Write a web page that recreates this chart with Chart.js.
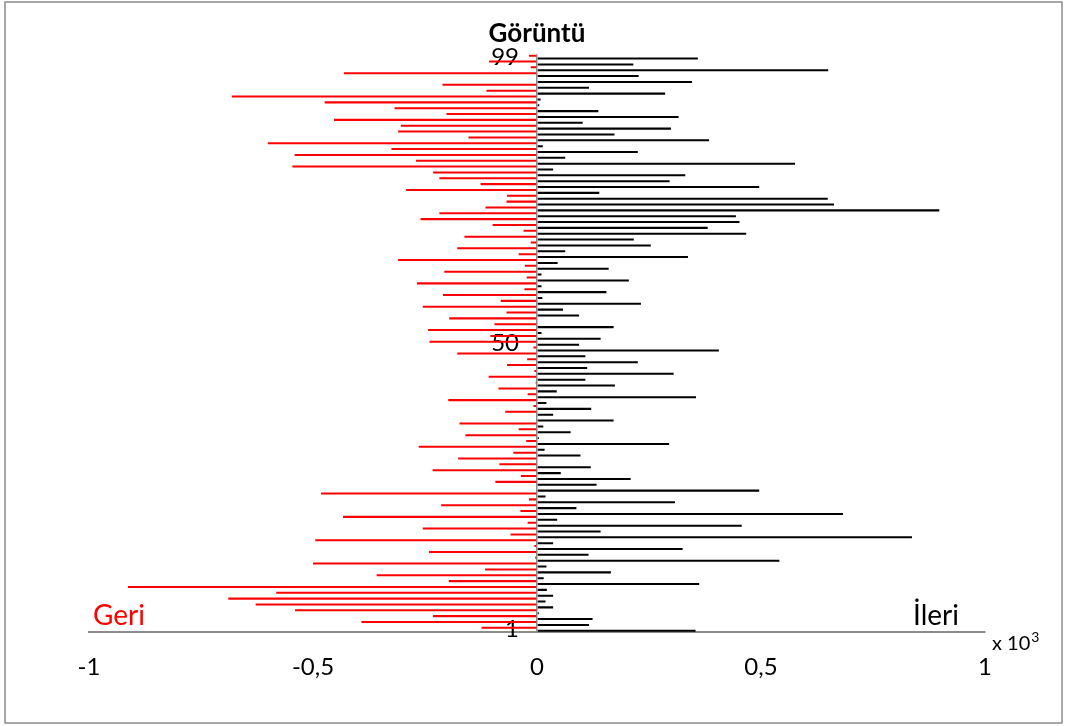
<!DOCTYPE html>
<html lang="tr">
<head>
<meta charset="UTF-8">
<title>Görüntü</title>
<script src="https://cdn.jsdelivr.net/npm/chart.js"></script>
<style>
  html, body { margin: 0; padding: 0; background: #fff; }
  .chart-box { position: relative; width: 1065px; height: 726px; }
</style>
</head>
<body>
<div class="chart-box"><canvas id="goruntuChart"></canvas></div>
<script>
// image numbers, bottom (1) to top (99)
const imageNumbers = [
  1, 2, 3, 4, 5, 6, 7, 8, 9, 10, 11, 12, 13, 14, 15, 16, 17, 18, 19, 20,
  21, 22, 23, 24, 25, 26, 27, 28, 29, 30, 31, 32, 33, 34, 35, 36, 37, 38, 39, 40,
  41, 42, 43, 44, 45, 46, 47, 48, 49, 50, 51, 52, 53, 54, 55, 56, 57, 58, 59, 60,
  61, 62, 63, 64, 65, 66, 67, 68, 69, 70, 71, 72, 73, 74, 75, 76, 77, 78, 79, 80,
  81, 82, 83, 84, 85, 86, 87, 88, 89, 90, 91, 92, 93, 94, 95, 96, 97, 98, 99
];

// backward values (red), image 1 .. 99
const geri = [
  -124, -392, -232, -540, -628, -689, -582, -913, -197, -358,
  -116, -500, -4, -241, -6, -495, -59, -255, -21, -433,
  -37, -214, -18, -482, 0, -93, -36, -233, -84, -176,
  -53, -264, -24, -160, -41, -173, 0, -71, -8, -198,
  -21, -86, -3, -108, -6, -67, -22, -178, -8, -240,
  -104, -243, -95, -196, -68, -255, -81, -210, -28, -268,
  -23, -207, -27, -310, -41, -178, -14, -162, -30, -99,
  -260, -218, -115, -68, -67, -292, -126, -218, -232, -546,
  -270, -541, -325, -601, -153, -310, -304, -453, -202, -318,
  -474, -681, -113, -211, 0, -431, -14, -107, -18
];

// forward values (black), image 1 .. 99
const ileri = [
  354, 116, 124, 4, 36, 19, 36, 22, 362, 15,
  165, 21, 541, 115, 325, 36, 837, 142, 457, 45,
  683, 88, 308, 19, 496, 133, 209, 53, 120, 0,
  97, 17, 295, 4, 75, 14, 171, 36, 121, 21,
  355, 44, 174, 108, 305, 112, 225, 108, 406, 94,
  142, 10, 171, 0, 94, 58, 232, 12, 155, 10,
  205, 10, 160, 46, 337, 63, 254, 216, 467, 381,
  452, 444, 898, 663, 649, 139, 496, 296, 331, 36,
  576, 63, 225, 13, 384, 173, 299, 102, 316, 137,
  5, 8, 286, 116, 346, 227, 650, 215, 359
];

const shownImageTicks = [1, 50, 99];
const xTickValues = [-1000, -500, 0, 500, 1000];

Chart.defaults.font.family = 'Lato, "Open Sans", sans-serif';
Chart.defaults.color = '#000';

const framePlugin = {
  id: 'frame',
  beforeDraw(chart) {
    const ctx = chart.ctx;
    ctx.save();
    ctx.fillStyle = '#fff';
    ctx.fillRect(0, 0, chart.width, chart.height);
    ctx.strokeStyle = '#8c8c8c';
    ctx.lineWidth = 1.5;
    ctx.strokeRect(5, 2, 1057, 721);
    ctx.restore();
  }
};

const axisTextPlugin = {
  id: 'axisText',
  beforeDatasetsDraw(chart) {
    const { ctx, scales: { x, y } } = chart;
    const zeroX = x.getPixelForValue(0);
    ctx.save();
    ctx.font = '24px Lato';
    ctx.fillStyle = '#000';
    ctx.textAlign = 'right';
    ctx.textBaseline = 'middle';
    shownImageTicks.forEach(n => {
      ctx.fillText(String(n), zeroX - 18, y.getPixelForValue(imageNumbers.indexOf(n)));
    });
    ctx.restore();
  },
  afterDraw(chart) {
    const { ctx, scales: { x } } = chart;
    const bottom = chart.chartArea.bottom;
    ctx.save();
    ctx.textBaseline = 'alphabetic';
    ctx.font = '28px Lato';
    ctx.fillStyle = '#ff0000';
    ctx.textAlign = 'left';
    ctx.fillText('Geri', x.left + 4, bottom - 7);
    ctx.fillStyle = '#000';
    ctx.textAlign = 'right';
    ctx.fillText('İleri', x.right - 26, bottom - 7);
    ctx.textAlign = 'left';
    ctx.font = '20px Lato';
    ctx.fillText('x 10', x.right + 7, bottom + 18);
    const w = ctx.measureText('x 10').width;
    ctx.font = '14px Lato';
    ctx.fillText('3', x.right + 7 + w + 1, bottom + 10);
    ctx.restore();
  }
};

new Chart(document.getElementById('goruntuChart'), {
  type: 'bar',
  data: {
    labels: imageNumbers.map(String),
    datasets: [
      {
        label: 'Geri',
        data: geri,
        backgroundColor: '#ff0000',
        borderWidth: 0,
        categoryPercentage: 1.0,
        barPercentage: 0.7
      },
      {
        label: 'İleri',
        data: ileri,
        backgroundColor: '#000000',
        borderWidth: 0,
        categoryPercentage: 1.0,
        barPercentage: 0.7
      }
    ]
  },
  options: {
    indexAxis: 'y',
    responsive: true,
    maintainAspectRatio: false,
    animation: false,
    layout: { padding: { left: 89, right: 80, top: 18, bottom: 23 } },
    plugins: {
      legend: { display: false },
      tooltip: { enabled: false },
      title: {
        display: true,
        text: 'Görüntü',
        color: '#000',
        font: { size: 26, weight: 'bold' },
        padding: { top: 0, bottom: 5 }
      }
    },
    scales: {
      x: {
        type: 'linear',
        min: -1000,
        max: 1000,
        afterBuildTicks: scale => { scale.ticks = xTickValues.map(v => ({ value: v })); },
        ticks: {
          font: { size: 24 },
          padding: 21,
          maxRotation: 0,
          callback: v => String(v / 1000).replace('.', ',')
        },
        grid: {
          drawTicks: false,
          lineWidth: 1.5,
          color: c => (c.tick && c.tick.value === 0 ? '#8c8c8c' : 'rgba(0,0,0,0)')
        },
        border: { display: true, color: '#8c8c8c', width: 2 }
      },
      y: {
        type: 'category',
        reverse: true,
        offset: true,
        display: false
      }
    }
  },
  plugins: [framePlugin, axisTextPlugin]
});
</script>
</body>
</html>
